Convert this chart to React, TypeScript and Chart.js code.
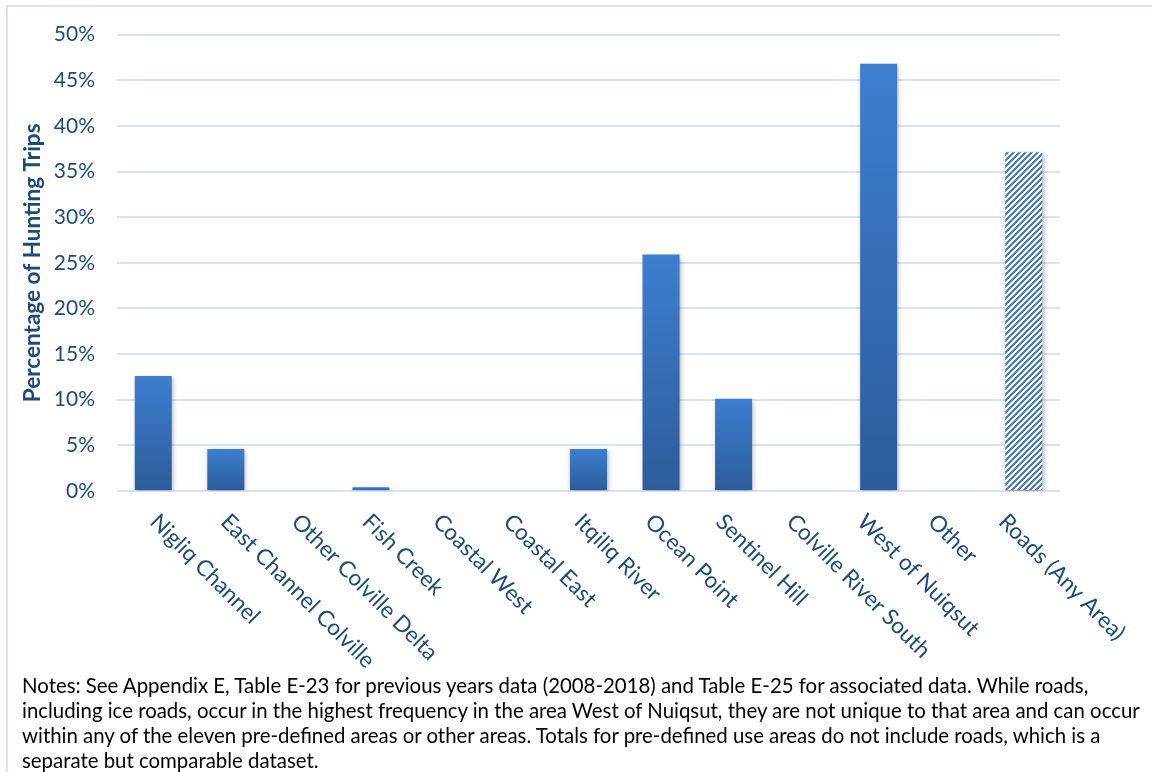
import React, { useEffect, useRef } from "react";
import { Chart, registerables } from "chart.js";

Chart.register(...registerables);

// ---- Data ----
const CATEGORIES: string[] = [
  "Nigliq Channel",
  "East Channel Colville",
  "Other Colville Delta",
  "Fish Creek",
  "Coastal West",
  "Coastal East",
  "Itqiliq River",
  "Ocean Point",
  "Sentinel Hill",
  "Colville River South",
  "West of Nuiqsut",
  "Other",
  "Roads (Any Area)",
];
const PERCENT_OF_TRIPS: number[] = [12.6, 4.6, 0, 0.4, 0, 0, 4.6, 25.9, 10.1, 0, 46.8, 0, 37.1];
const HATCHED_CATEGORY = "Roads (Any Area)";
const Y_AXIS_TITLE = "Percentage of Hunting Trips";
const Y_MIN = 0;
const Y_MAX = 50;
const Y_STEP = 5;
const NOTE_LINES: string[] = [
  "Notes: See Appendix E, Table E-23 for previous years data (2008-2018) and Table E-25 for associated data. While roads,",
  "including ice roads, occur in the highest frequency in the area West of Nuiqsut, they are not unique to that area and can occur",
  "within any of the eleven pre-defined areas or other areas. Totals for pre-defined use areas do not include roads, which is a",
  "separate but comparable dataset.",
];

// ---- Styles ----
const TEXT_BLUE = "#1F497D";
const GRID = "#D9E3F4";
const BAR_TOP = "#3D7ECF";
const BAR_BOTTOM = "#2C5C9B";
const HATCH = "#4A7EC7";
const FONT = "Lato, 'Open Sans', sans-serif";

function makeHatch(): CanvasPattern | string {
  const c = document.createElement("canvas");
  c.width = 6;
  c.height = 6;
  const g = c.getContext("2d");
  if (!g) return HATCH;
  g.fillStyle = "#ffffff";
  g.fillRect(0, 0, 6, 6);
  g.fillStyle = HATCH;
  for (let y = 0; y < 6; y++) {
    for (let x = 0; x < 6; x++) {
      if ((x + y) % 6 < 3) g.fillRect(x, y, 1, 1);
    }
  }
  const p = g.createPattern(c, "repeat");
  return p || HATCH;
}

const shadowPlugin = {
  id: "barShadow",
  beforeDatasetsDraw(chart: any) {
    const ctx = chart.ctx;
    ctx.save();
    ctx.shadowColor = "rgba(0,0,0,0.35)";
    ctx.shadowBlur = 5;
    ctx.shadowOffsetX = 1;
    ctx.shadowOffsetY = 2;
  },
  afterDatasetsDraw(chart: any) {
    chart.ctx.restore();
  },
};

const slantedLabelsPlugin = {
  id: "slantedLabels",
  afterDraw(chart: any) {
    const xs = chart.scales.x;
    const ctx = chart.ctx;
    const labels: string[] = chart.data.labels;
    ctx.save();
    ctx.font = `22.5px ${FONT}`;
    ctx.fillStyle = TEXT_BLUE;
    ctx.textAlign = "left";
    ctx.textBaseline = "middle";
    labels.forEach((lab, i) => {
      const tx = xs.getPixelForTick(i);
      const ax = xs.left + (tx - xs.left) * 0.975 + 1.5;
      const ay = xs.top + 27;
      ctx.save();
      ctx.translate(ax, ay);
      ctx.rotate(Math.PI / 4);
      ctx.fillText(lab, 0, 0);
      ctx.restore();
    });
    ctx.restore();
  },
};

function BarChart() {
  const ref = useRef<HTMLCanvasElement | null>(null);
  useEffect(() => {
    if (!ref.current) return;
    const hatch = makeHatch();
    const chart = new Chart(ref.current, {
      type: "bar",
      data: {
        labels: CATEGORIES,
        datasets: [
          {
            data: PERCENT_OF_TRIPS,
            categoryPercentage: 1,
            barPercentage: 0.51,
            borderWidth: 0,
            backgroundColor: (c: any) => {
              const ch = c.chart;
              if (c.type !== "data" || !ch.chartArea) return BAR_TOP;
              if (ch.data.labels[c.dataIndex] === HATCHED_CATEGORY) return hatch;
              const y = ch.scales.y;
              const top = y.getPixelForValue(c.raw);
              const bot = y.getPixelForValue(0);
              if (bot - top < 1) return BAR_TOP;
              const g = ch.ctx.createLinearGradient(0, top, 0, bot);
              g.addColorStop(0, BAR_TOP);
              g.addColorStop(1, BAR_BOTTOM);
              return g;
            },
          },
        ],
      },
      options: {
        responsive: false,
        maintainAspectRatio: false,
        animation: false,
        layout: { padding: { left: 0, right: 92, top: 32, bottom: 112 } },
        plugins: {
          legend: { display: false },
          tooltip: { enabled: false },
        },
        scales: {
          x: {
            grid: { display: false },
            border: { display: false },
            ticks: { display: false },
            afterFit: (s: any) => {
              s.height = 169;
            },
          },
          y: {
            min: Y_MIN,
            max: Y_MAX,
            grid: { color: GRID, lineWidth: 2, drawTicks: false },
            border: { display: false },
            ticks: {
              stepSize: Y_STEP,
              padding: 22,
              color: TEXT_BLUE,
              font: { family: FONT, size: 21 },
              callback: (v: any) => `${v}%`,
            },
            title: {
              display: true,
              text: Y_AXIS_TITLE,
              color: TEXT_BLUE,
              font: { family: FONT, size: 22.5, weight: "bold", lineHeight: 1.2 },
              padding: { top: 19.5, bottom: 0 },
            },
            afterFit: (s: any) => {
              s.width = 117;
            },
          },
        },
      },
      plugins: [shadowPlugin, slantedLabelsPlugin],
    });
    return () => chart.destroy();
  }, []);
  return <canvas ref={ref} width={1152} height={772} style={{ display: "block" }} />;
}

export default function App() {
  return (
    <div
      style={{
        position: "absolute",
        left: 0,
        top: 0,
        width: 1152,
        height: 772,
        background: "#ffffff",
        overflow: "hidden",
      }}
    >
      <div
        style={{
          position: "absolute",
          left: 6,
          top: 5,
          right: 0,
          bottom: 0,
          borderLeft: `2px solid ${GRID}`,
          borderTop: `2px solid ${GRID}`,
        }}
      />
      <div style={{ position: "absolute", left: 0, top: 0, width: 1152, height: 772 }}>
        <BarChart />
      </div>
      <div
        style={{
          position: "absolute",
          left: 22,
          top: 673,
          fontFamily: FONT,
          fontSize: 20.4,
          lineHeight: "25px",
          color: "#000",
          whiteSpace: "nowrap",
        }}
      >
        {NOTE_LINES.map((l, i) => (
          <div key={i}>{l}</div>
        ))}
      </div>
    </div>
  );
}
